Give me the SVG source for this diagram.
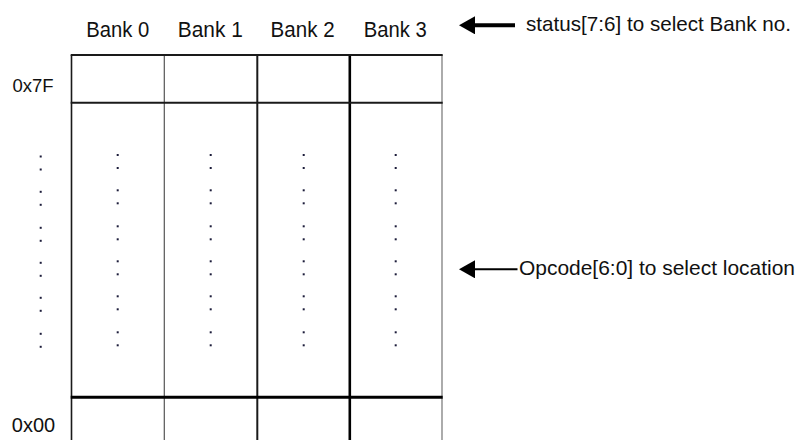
<svg xmlns="http://www.w3.org/2000/svg" xmlns:xlink="http://www.w3.org/1999/xlink" width="798" height="440" viewBox="0 0 798 440">
<style>
.lbl{font-family:"Liberation Sans",Arial,sans-serif;fill:#111;}
.bank{font-size:22.5px;text-anchor:middle;}
.ann{font-size:21px;}
.dot{fill:#1c1c3a;}
</style>
<defs>
<g id="colon-col">
<rect class="dot" x="-1" y="-1" width="2" height="2"/>
<rect class="dot" x="-1" y="12" width="2" height="2"/>
<rect class="dot" x="-1" y="34.3" width="2" height="2"/>
<rect class="dot" x="-1" y="47.3" width="2" height="2"/>
<rect class="dot" x="-1" y="70.3" width="2" height="2"/>
<rect class="dot" x="-1" y="83.3" width="2" height="2"/>
<rect class="dot" x="-1" y="105.3" width="2" height="2"/>
<rect class="dot" x="-1" y="118.3" width="2" height="2"/>
<rect class="dot" x="-1" y="140.3" width="2" height="2"/>
<rect class="dot" x="-1" y="153.3" width="2" height="2"/>
<rect class="dot" x="-1" y="176.3" width="2" height="2"/>
<rect class="dot" x="-1" y="189.3" width="2" height="2"/>
</g>
<marker id="arrowhead" markerUnits="userSpaceOnUse" markerWidth="16" markerHeight="18" refX="0" refY="9" orient="auto">
<path d="M0,0 L16,9 L0,18 z" fill="#000"/>
</marker>
</defs>
<rect x="0" y="0" width="798" height="440" fill="#fff"/>

<g id="grid">
<rect x="71.5" y="55" width="370.5" height="390" fill="#fff" stroke="none"/>
<line x1="71.5" y1="55" x2="71.5" y2="440" stroke="#1a1a1a" stroke-width="1.6"/>
<line x1="164.3" y1="55" x2="164.3" y2="440" stroke="#555" stroke-width="1.2"/>
<line x1="257.3" y1="55" x2="257.3" y2="440" stroke="#1a1a1a" stroke-width="2"/>
<line x1="349.8" y1="55" x2="349.8" y2="440" stroke="#000" stroke-width="2.6"/>
<line x1="442" y1="55" x2="442" y2="440" stroke="#888" stroke-width="1.4"/>
<line x1="70.7" y1="55" x2="442.7" y2="55" stroke="#1a1a1a" stroke-width="2"/>
<line x1="70.7" y1="102.7" x2="442.7" y2="102.7" stroke="#1a1a1a" stroke-width="2"/>
<line x1="70.7" y1="397.3" x2="442.7" y2="397.3" stroke="#000" stroke-width="3"/>
</g>

<g id="bank0">
<text class="lbl bank" x="117.8" y="36.5" textLength="63" lengthAdjust="spacingAndGlyphs">Bank 0</text>
<use xlink:href="#colon-col" x="117.7" y="155"/>
</g>
<g id="bank1">
<text class="lbl bank" x="210.3" y="36.5" textLength="65" lengthAdjust="spacingAndGlyphs">Bank 1</text>
<use xlink:href="#colon-col" x="210.7" y="155"/>
</g>
<g id="bank2">
<text class="lbl bank" x="302.6" y="36.5" textLength="64" lengthAdjust="spacingAndGlyphs">Bank 2</text>
<use xlink:href="#colon-col" x="303.7" y="155"/>
</g>
<g id="bank3">
<text class="lbl bank" x="395.2" y="36.5" textLength="63" lengthAdjust="spacingAndGlyphs">Bank 3</text>
<use xlink:href="#colon-col" x="395.7" y="155"/>
</g>

<g id="addresses">
<text class="lbl" x="12.5" y="92.3" font-size="18.5">0x7F</text>
<use xlink:href="#colon-col" x="40.7" y="156.5"/>
<text class="lbl" x="11.8" y="432.3" font-size="20">0x00</text>
</g>

<g id="connectors">
<line x1="515" y1="25.3" x2="475" y2="25.3" stroke="#000" stroke-width="4" marker-end="url(#arrowhead)"/>
<line x1="517.5" y1="269.3" x2="475" y2="269.3" stroke="#000" stroke-width="2" marker-end="url(#arrowhead)"/>
</g>

<g id="status-label">
<text class="lbl ann" x="526" y="30.5" textLength="265" lengthAdjust="spacingAndGlyphs">status[7:6] to select Bank no.</text>
</g>
<g id="opcode-label">
<text class="lbl ann" x="519" y="275" textLength="276" lengthAdjust="spacingAndGlyphs">Opcode[6:0] to select location</text>
</g>
</svg>
